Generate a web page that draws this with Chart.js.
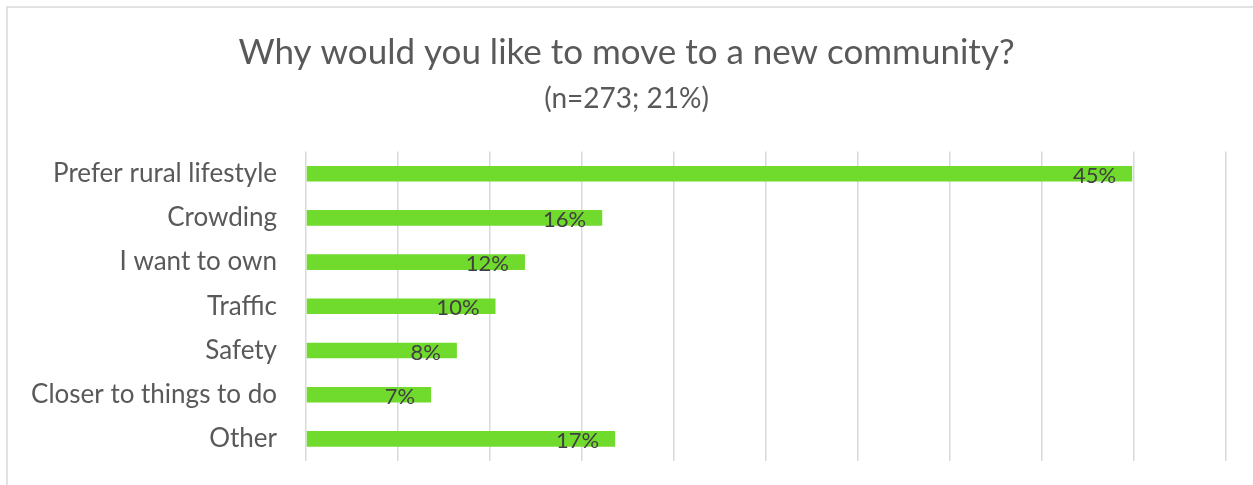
<!DOCTYPE html>
<html>
<head>
<meta charset="utf-8">
<script src="https://cdn.jsdelivr.net/npm/chart.js@4"></script>
<style>
html,body{margin:0;padding:0;background:#fff;}
#wrap{position:absolute;left:0;top:0;width:1253px;height:485px;}
</style>
</head>
<body>
<div id="wrap"><canvas id="c" width="1253" height="485"></canvas></div>
<script>
const categories = ["Prefer rural lifestyle","Crowding","I want to own","Traffic","Safety","Closer to things to do","Other"];
const values = [44.9, 16.1, 11.9, 10.3, 8.2, 6.8, 16.8];
const titleText = "Why would you like to move to a new community?";
const subtitleText = "(n=273; 21%)";
const FONT = "Lato, 'Open Sans', sans-serif";

const framePlugin = {
  id: 'frame',
  beforeDraw(chart) {
    const ctx = chart.ctx;
    ctx.save();
    ctx.fillStyle = '#ffffff';
    ctx.fillRect(0, 0, chart.width, chart.height);
    ctx.strokeStyle = '#d9d9d9';
    ctx.lineWidth = 1.5;
    ctx.strokeRect(7, 7, 1400, 1000);
    ctx.restore();
  }
};

const labelPlugin = {
  id: 'barLabels',
  afterDatasetsDraw(chart) {
    const ctx = chart.ctx;
    const meta = chart.getDatasetMeta(0);
    ctx.save();
    ctx.font = "22px " + FONT;
    ctx.fillStyle = '#404040';
    ctx.textAlign = 'right';
    ctx.textBaseline = 'middle';
    meta.data.forEach((bar, i) => {
      ctx.fillText(Math.round(values[i]) + '%', bar.x - 16, bar.y + 2);
    });
    ctx.restore();
  }
};

new Chart(document.getElementById('c'), {
  type: 'bar',
  data: {
    labels: categories,
    datasets: [{
      data: values,
      backgroundColor: '#70DA2D',
      borderWidth: 0,
      categoryPercentage: 1,
      barPercentage: 0.353
    }]
  },
  options: {
    indexAxis: 'y',
    responsive: false,
    animation: false,
    layout: { padding: { left: 27, right: 27, top: 0, bottom: 24 } },
    plugins: {
      legend: { display: false },
      tooltip: { enabled: false },
      title: {
        display: true,
        text: titleText,
        color: '#595959',
        font: { family: FONT, size: 35, weight: 'normal', lineHeight: 1.2 },
        padding: { top: 32, bottom: 5 }
      },
      subtitle: {
        display: true,
        text: subtitleText,
        color: '#595959',
        font: { family: FONT, size: 28, weight: 'normal', lineHeight: 1.2 },
        padding: { top: 3, bottom: 36 }
      }
    },
    scales: {
      x: {
        min: 0, max: 50,
        ticks: { display: false, stepSize: 5 },
        grid: { color: '#d9d9d9', lineWidth: 1.5, drawTicks: false },
        border: { display: false },
        afterFit(scale) { scale.height = 0; scale.paddingLeft = 0; scale.paddingRight = 0; }
      },
      y: {
        ticks: { color: '#595959', font: { family: FONT, size: 26 }, padding: 29 },
        grid: { display: false, drawTicks: false },
        border: { display: false },
        afterFit(scale) { scale.width = 279; scale.paddingTop = 0; scale.paddingBottom = 0; }
      }
    }
  },
  plugins: [framePlugin, labelPlugin]
});
</script>
</body>
</html>
